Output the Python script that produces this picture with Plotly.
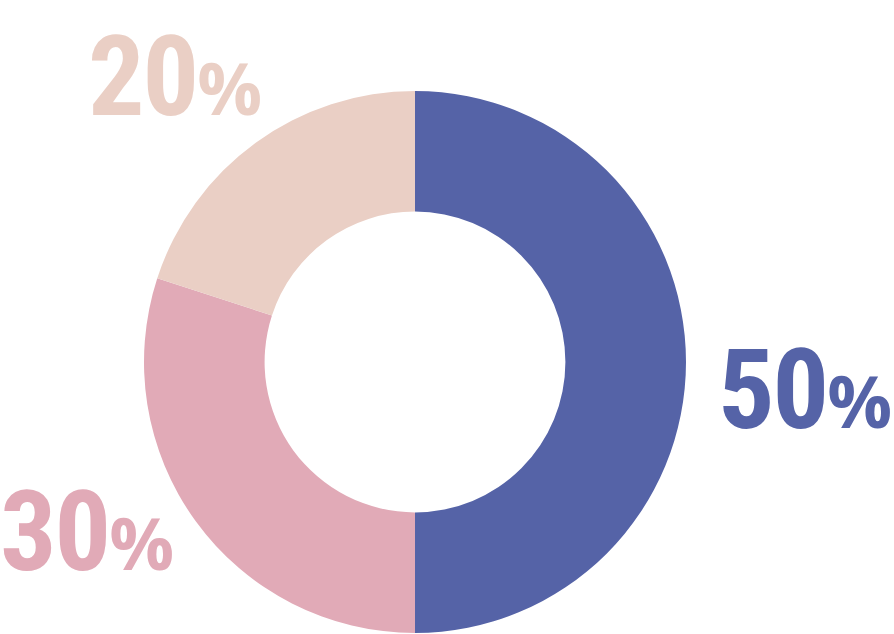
import plotly.graph_objects as go

labels = ["A", "B", "C"]
values = [50, 30, 20]
colors = ["#5563A7", "#E1AAB7", "#EACFC5"]
label_text = ["50", "30", "20"]

W, H = 894, 634
# label anchor positions (left, vertical centre of digits) in pixels
label_pos = [(716, 389), (-2, 531), (86, 76)]

fig = go.Figure(go.Pie(
    labels=labels,
    values=values,
    marker=dict(colors=colors, line=dict(width=0)),
    hole=0.555,
    sort=False,
    direction="clockwise",
    rotation=0,
    textinfo="none",
    hoverinfo="skip",
    showlegend=False,
    domain=dict(x=[144 / W, 686 / W], y=[1 / H, 543 / H]),
))

for txt, col, (px, py) in zip(label_text, colors, label_pos):
    fig.add_annotation(
        x=px / W, y=1 - py / H, xref="paper", yref="paper",
        xanchor="left", yanchor="middle", showarrow=False,
        text=(f"<b><span style='letter-spacing:-2px'>{txt}</span>"
              f"<span style='font-size:72px;font-family:Open Sans'>%</span></b>"),
        font=dict(family="Roboto Condensed, Liberation Sans Narrow, Roboto, sans-serif",
                  size=112, color=col),
    )

fig.update_layout(
    width=W, height=H,
    margin=dict(l=0, r=0, t=0, b=0),
    paper_bgcolor="white",
    plot_bgcolor="white",
)
fig.write_html("out.html", config={"displayModeBar": False},
               post_script="document.body.style.margin='0px';")
